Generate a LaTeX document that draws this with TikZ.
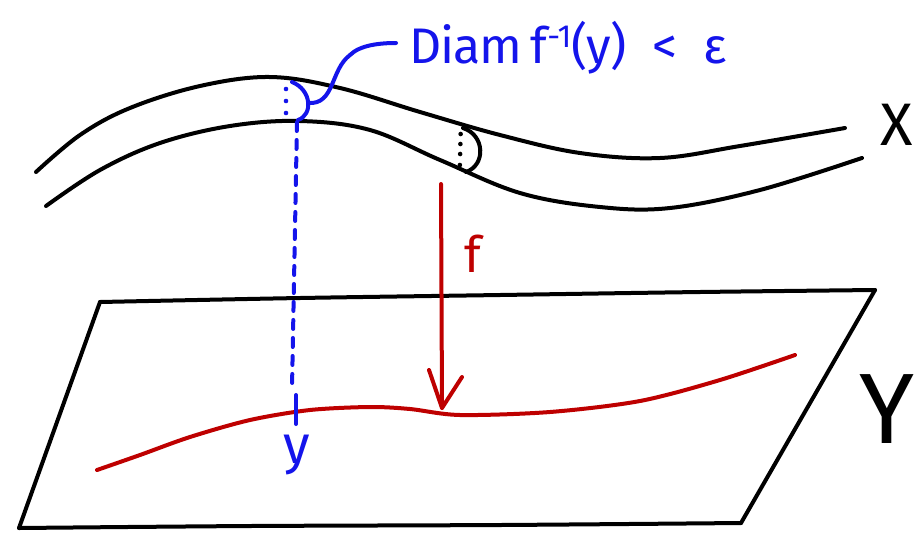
\documentclass[tikz,border=0pt]{standalone}
\usepackage{fontspec}
\setmainfont{Fira Sans}
\usetikzlibrary{arrows.meta}
\definecolor{penblue}{RGB}{20,20,235}
\definecolor{penred}{RGB}{190,0,0}
\tikzset{
  ink/.style={line width=4pt, line cap=round, line join=round},
  blk/.style={ink, black},
  blu/.style={ink, penblue},
  rd/.style={ink, penred},
  lbl/.style={inner sep=0pt, anchor=center},
}
\begin{document}
\begin{tikzpicture}[x=1pt,y=-1pt]
\useasboundingbox (0,0) rectangle (917,533);
% upper tube X
\draw[blk] plot[smooth, tension=0.6] coordinates {(36,172) (80,135) (130,108) (200,86) (270,77) (340,88) (420,112) (500,135) (580,153) (660,158) (740,146) (845,128)};
\draw[blk] plot[smooth, tension=0.6] coordinates {(46,206) (100,170) (160,143) (230,126) (300,121) (370,130) (440,160) (520,193) (600,207) (670,208) (760,190) (862,158)};
% right cross-section (black)
\draw[blk] (463,128) .. controls (485,135) and (486,165) .. (466,172);
\foreach \yy in {134,144,154,165} \fill (461-\yy/40+3,\yy) circle (2.3pt);
% left cross-section (blue)
\draw[blu] (292,82) .. controls (312,90) and (313,115) .. (298,120);
\foreach \yy in {89,101,113} \fill[penblue] (286,\yy) circle (2.3pt);
% leader
\draw[blu] (308,103) .. controls (335,105) and (330,70) .. (350,55) .. controls (360,45) and (380,43) .. (396,43);
\node[lbl, penblue, font=\fontsize{50}{50}\selectfont\addfontfeatures{LetterSpace=-2}] (diam) at (568,48) {Diam\,f\raisebox{16pt}{\fontsize{32}{32}\selectfont -1}(y)\; <\; ε};
% X label
\node[lbl, font=\fontsize{60}{60}\selectfont] (xlab) at (897,125) {X};
% plane Y
\draw[blk] plot[smooth, tension=0.5] coordinates {(100,302) (300,298) (500,295) (700,292) (875,290)};
\draw[blk] (100,302) -- (19,528);
\draw[blk] (875,290) -- (741,523);
\draw[blk] plot[smooth, tension=0.5] coordinates {(19,528) (250,526) (500,525) (741,523)};
\node[lbl, font=\fontsize{100}{100}\selectfont] (ylab) at (887,409) {Y};
% red curve
\draw[rd] plot[smooth, tension=0.5] coordinates {(97,470) (140,455) (190,437) (250,420) (310,410) (370,407) (410,409) (460,415) (550,412) (640,401) (720,380) (795,355)};
% blue dashed vertical
\coordinate (top) at (297,122);
\coordinate (bot) at (292,388);
\draw[blu, dash pattern=on 9pt off 9pt] (top) -- (bot);
\draw[blu] (296,395) -- (296,424);
\node[lbl, penblue, font=\fontsize{54}{54}\selectfont] (ypt) at (297,455) {y};
% map f
\coordinate (fs) at (441,184);
\coordinate (fe) at (442,408);
\draw[rd] (fs) -- (fe);
\draw[rd] (429,370) -- (fe) -- (462,377);
\node[lbl, penred, font=\fontsize{50}{50}\selectfont] (flab) at (473,254) {f};
\end{tikzpicture}
\end{document}
